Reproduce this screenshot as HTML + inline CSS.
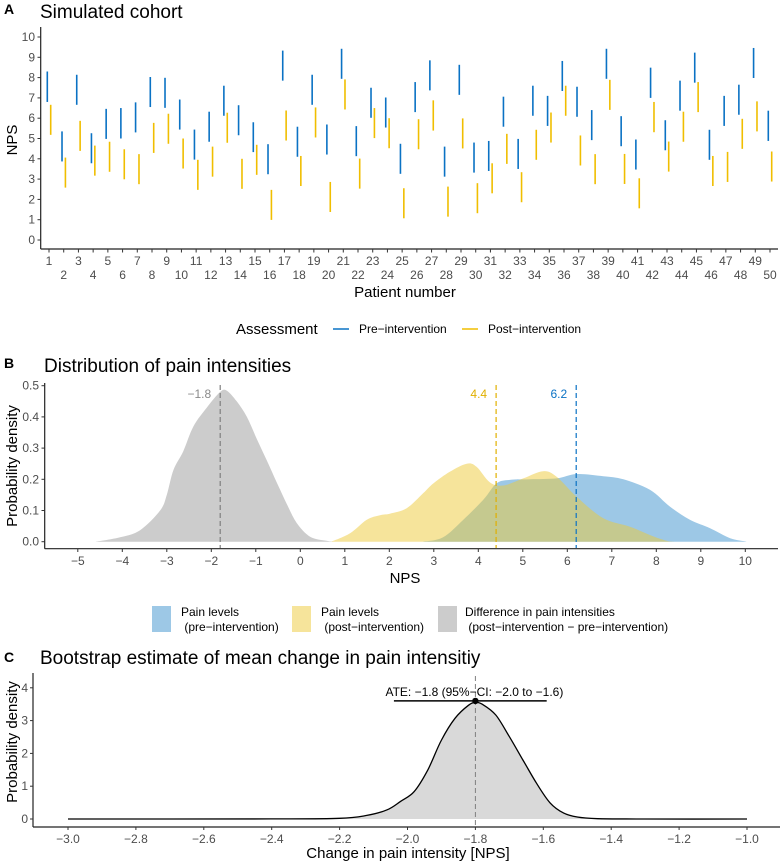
<!DOCTYPE html>
<html><head><meta charset="utf-8"><style>
body{margin:0;background:#fff;}
svg{display:block;font-family:"Liberation Sans",sans-serif;}
.tick{fill:#4d4d4d;font-size:12px;}
</style></head><body>
<svg id="chart" width="782" height="864" viewBox="0 0 782 864" xmlns="http://www.w3.org/2000/svg">
<g id="pA">
<text x="4" y="14" font-size="14" font-weight="bold">A</text>
<text x="40" y="18" font-size="19">Simulated cohort</text>
<text transform="translate(17,140) rotate(-90)" text-anchor="middle" font-size="15">NPS</text>
<text x="405" y="297" text-anchor="middle" font-size="15">Patient number</text>
<line x1="40.7" y1="27" x2="40.7" y2="249" stroke="#222" stroke-width="1.2"/>
<line x1="40.7" y1="249" x2="778" y2="249" stroke="#222" stroke-width="1.2"/>
</g>
<g id="legA">
<text x="236" y="334" font-size="15">Assessment</text>
<line x1="333" y1="329" x2="349" y2="329" stroke="#0a72c4" stroke-width="1.5"/>
<text x="359" y="333" font-size="12">Pre−intervention</text>
<line x1="462" y1="329" x2="478" y2="329" stroke="#f0be00" stroke-width="1.5"/>
<text x="488" y="333" font-size="12">Post−intervention</text>
</g>
<g id="pB">
<text x="4" y="368" font-size="14" font-weight="bold">B</text>
<text x="44" y="372" font-size="19">Distribution of pain intensities</text>
<text transform="translate(17,466) rotate(-90)" text-anchor="middle" font-size="15">Probability density</text>
<text x="405" y="583" text-anchor="middle" font-size="15">NPS</text>
</g>
<g id="legB">
<rect x="152" y="606" width="19" height="26" fill="#9dc8e6"/>
<text x="181" y="616" font-size="12"><tspan x="181">Pain levels</tspan><tspan x="181" dy="15"> (pre−intervention)</tspan></text>
<rect x="292" y="606" width="19" height="26" fill="#f6e49b"/>
<text x="321" y="616" font-size="12"><tspan x="321">Pain levels</tspan><tspan x="321" dy="15"> (post−intervention)</tspan></text>
<rect x="438" y="606" width="19" height="26" fill="#cccccc"/>
<text x="465" y="616" font-size="12"><tspan x="465">Difference in pain intensities</tspan><tspan x="465" dy="15"> (post−intervention − pre−intervention)</tspan></text>
</g>
<g id="pC">
<text x="4" y="662" font-size="14" font-weight="bold">C</text>
<text x="40" y="664" font-size="19">Bootstrap estimate of mean change in pain intensitiy</text>
<text transform="translate(17,742) rotate(-90)" text-anchor="middle" font-size="15">Probability density</text>
<text x="408" y="858" text-anchor="middle" font-size="15">Change in pain intensity [NPS]</text>
</g>
</svg>
<script>
// Panel A data
const patients = Array.from({length:50},(_,i)=>i+1);
const preHi = [8.3,5.35,8.14,5.26,6.46,6.5,6.78,8.03,7.99,6.92,5.44,6.32,7.6,6.64,5.8,4.72,9.33,5.58,8.14,5.69,9.42,5.61,7.5,7.02,4.74,7.78,8.85,4.6,8.63,4.8,4.88,7.06,4.98,7.6,7.1,8.82,7.55,6.4,9.42,6.1,4.95,8.49,5.9,7.85,9.23,5.43,7.1,7.65,9.46,6.37];
const preLo = [6.8,3.87,6.66,3.78,4.98,5.0,5.3,6.55,6.51,5.44,3.96,4.84,6.12,5.16,4.33,3.24,7.85,4.1,6.66,4.21,7.94,4.13,6.02,5.54,3.26,6.3,7.37,3.12,7.15,3.32,3.4,5.58,3.5,6.12,5.62,7.34,6.07,4.92,7.94,4.62,3.47,7.0,4.42,6.37,7.75,3.95,5.62,6.17,7.98,4.88];
const postHi = [6.66,4.06,5.87,4.65,4.84,4.47,4.23,5.77,6.22,5.0,3.95,4.6,6.27,4.0,4.69,2.47,6.38,4.14,6.53,2.86,7.91,4.01,6.5,6.0,2.55,5.95,6.88,2.63,5.99,2.8,3.78,5.23,3.34,5.43,6.28,7.6,5.15,4.23,7.89,4.24,3.04,6.8,4.85,6.32,7.78,4.14,4.34,5.97,6.83,4.36];
const postLo = [5.18,2.58,4.39,3.17,3.36,2.99,2.75,4.29,4.74,3.52,2.47,3.12,4.79,2.52,3.21,0.99,4.9,2.66,5.05,1.38,6.43,2.53,5.02,4.52,1.07,4.47,5.39,1.15,4.51,1.32,2.3,3.75,1.86,3.95,4.8,6.12,3.67,2.75,6.41,2.76,1.56,5.31,3.37,4.84,6.3,2.66,2.86,4.49,5.35,2.88];
const yTicksA = [0,1,2,3,4,5,6,7,8,9,10];
// Panel B data
const diffX = [-4.6,-4.05,-3.6,-3.15,-3.0,-2.85,-2.63,-2.4,-2.1,-1.8,-1.65,-1.43,-1.2,-0.98,-0.75,-0.53,-0.3,-0.08,0.22,0.59,0.74];
const diffY = [0,0.014,0.037,0.1,0.15,0.23,0.29,0.37,0.43,0.48,0.484,0.45,0.40,0.33,0.26,0.19,0.12,0.06,0.016,0.003,0];
const postX = [0.7,1.12,1.49,1.79,2.02,2.39,2.76,2.99,3.36,3.74,3.96,4.26,4.56,5.01,5.46,5.76,6.21,6.81,7.41,7.86,8.23,8.4];
const postY = [0,0.027,0.07,0.085,0.09,0.107,0.155,0.187,0.224,0.25,0.24,0.19,0.18,0.203,0.226,0.208,0.144,0.075,0.048,0.021,0.003,0];
const preX = [2.76,3.21,3.66,4.11,4.41,4.71,5.16,5.76,6.21,6.81,7.26,7.86,8.31,8.76,9.21,9.66,10.03];
const preY = [0,0.014,0.07,0.134,0.187,0.198,0.2,0.203,0.217,0.21,0.2,0.166,0.112,0.07,0.043,0.011,0];
const means = [-1.8,4.4,6.2];
const meanLabels = ["−1.8","4.4","6.2"];
const xTicksB = [-5,-4,-3,-2,-1,0,1,2,3,4,5,6,7,8,9,10];
const yTicksB = [0,0.1,0.2,0.3,0.4,0.5];
// Panel C data
const bootX = [-3.0,-2.4,-2.2,-2.12,-2.06,-2.02,-1.98,-1.94,-1.90,-1.86,-1.82,-1.80,-1.78,-1.74,-1.70,-1.66,-1.62,-1.58,-1.54,-1.50,-1.44,-1.3,-1.0];
const bootY = [0,0.003,0.02,0.11,0.28,0.54,0.84,1.5,2.41,3.07,3.47,3.55,3.5,3.17,2.51,1.8,1.09,0.49,0.18,0.06,0.01,0,0];
const ate = -1.8, ciLo = -2.04, ciHi = -1.59, ateY = 3.6;
const xTicksC = [-3.0,-2.8,-2.6,-2.4,-2.2,-2.0,-1.8,-1.6,-1.4,-1.2,-1.0];
const yTicksC = [0,1,2,3,4];

const NS="http://www.w3.org/2000/svg";
const svg=document.getElementById('chart');
function mk(tag,attrs,parent){const e=document.createElementNS(NS,tag);for(const k in attrs)e.setAttribute(k,attrs[k]);(parent||svg).appendChild(e);return e;}
const fmt=v=>(v<0?'−':'')+Math.abs(v).toString();
function smooth(pts){
  let d='';
  for(let i=0;i<pts.length-1;i++){
    const p0=pts[Math.max(0,i-1)],p1=pts[i],p2=pts[i+1],p3=pts[Math.min(pts.length-1,i+2)];
    const c1=[p1[0]+(p2[0]-p0[0])/6,p1[1]+(p2[1]-p0[1])/6];
    const c2=[p2[0]-(p3[0]-p1[0])/6,p2[1]-(p3[1]-p1[1])/6];
    d+=' C'+c1[0].toFixed(1)+','+c1[1].toFixed(1)+' '+c2[0].toFixed(1)+','+c2[1].toFixed(1)+' '+p2[0].toFixed(1)+','+p2[1].toFixed(1);
  }
  return d;
}

// ---- Panel A
const gA=document.getElementById('pA');
const xA=p=>49+(p-1)*(721/49);
const yA=v=>240-v*20.3;
yTicksA.forEach(t=>{
  const l=mk('line',{x1:37.5,x2:40.7,y1:yA(t),y2:yA(t),stroke:'#333'},gA);
  
  
  const tx=mk('text',{x:35,y:yA(t)+4,'text-anchor':'end',class:'tick'},gA);tx.textContent=t;
  
  
});
patients.forEach((p,i)=>{
  const x=xA(p);
  const tk=mk('line',{x1:x,x2:x,y1:249,y2:252.5,stroke:'#333'},gA);
  
  
  const tx=mk('text',{x:x,y:(p%2?265:279),'text-anchor':'middle',class:'tick'},gA);tx.textContent=p;
  
  
  const b=mk('line',{x1:x-1.7,x2:x-1.7,y1:yA(preHi[i]),y2:yA(preLo[i]),stroke:'#0a72c4','stroke-width':1.6},gA);
  
  
  const y=mk('line',{x1:x+1.7,x2:x+1.7,y1:yA(postHi[i]),y2:yA(postLo[i]),stroke:'#f0be00','stroke-width':1.6},gA);
  
  
});

// ---- Panel B
const gB=document.getElementById('pB');
const xB=v=>300.3+v*44.5;
const yB=v=>541.7-v*312;
function area(xs,ys,fill,op,name,g,xf,yf){
  const pts=xs.map((x,i)=>[xf(x),yf(ys[i])]);
  let d='M'+pts[0][0].toFixed(1)+','+yf(0)+' L'+pts[0][0].toFixed(1)+','+pts[0][1].toFixed(1)+smooth(pts)+' L'+pts[pts.length-1][0].toFixed(1)+','+yf(0)+' Z';
  const p=mk('path',{d:d,fill:fill,'fill-opacity':op},g);
  
  
  return p;
}
area(diffX,diffY,'#cccccc',1,'difference-density',gB,xB,yB);
area(preX,preY,'#3b91cd',0.5,'pre-density',gB,xB,yB);
area(postX,postY,'#edc937',0.5,'post-density',gB,xB,yB);
const mcol=['#7f7f7f','#e0b000','#0a72c4'];
means.forEach((m,i)=>{
  const l=mk('line',{x1:xB(m),x2:xB(m),y1:385,y2:548,stroke:mcol[i],'stroke-dasharray':'5,3','stroke-width':1.2},gB);
  
  
  const t=mk('text',{x:xB(m)-9,y:398,'text-anchor':'end','font-size':12,fill:i==0?'#8a8a8a':mcol[i]},gB);t.textContent=meanLabels[i];
  
  
});
const axB1=mk('line',{x1:44.7,x2:44.7,y1:383,y2:548.7,stroke:'#222','stroke-width':1.2},gB);


const axB2=mk('line',{x1:44.7,x2:778,y1:548.7,y2:548.7,stroke:'#222','stroke-width':1.2},gB);


yTicksB.forEach(t=>{
  const l=mk('line',{x1:41.5,x2:44.7,y1:yB(t),y2:yB(t),stroke:'#333'},gB);
  
  
  const tx=mk('text',{x:39,y:yB(t)+4,'text-anchor':'end',class:'tick'},gB);tx.textContent=t.toFixed(1);
  
  
});
xTicksB.forEach(t=>{
  const l=mk('line',{x1:xB(t),x2:xB(t),y1:548.7,y2:552,stroke:'#333'},gB);
  
  
  const tx=mk('text',{x:xB(t),y:565,'text-anchor':'middle',class:'tick'},gB);tx.textContent=fmt(t);
  
  
});

// ---- Panel C
const gC=document.getElementById('pC');
const xC=v=>68+(v+3)*339.5;
const yC=v=>819-v*32.8;
area(bootX,bootY,'#d9d9d9',1,'bootstrap-density-fill',gC,xC,yC);
const cpts=bootX.map((x,i)=>[xC(x),yC(bootY[i])]);
const dl='M'+cpts[0][0].toFixed(1)+','+cpts[0][1].toFixed(1)+smooth(cpts);
const lc=mk('path',{d:dl,fill:'none',stroke:'#000','stroke-width':1.3},gC);


const vl=mk('line',{x1:xC(ate),x2:xC(ate),y1:676,y2:827,stroke:'#7f7f7f','stroke-dasharray':'5,3'},gC);


const eb=mk('line',{x1:xC(ciLo),x2:xC(ciHi),y1:yC(ateY),y2:yC(ateY),stroke:'#000','stroke-width':1.5},gC);


const pt=mk('circle',{cx:xC(ate),cy:yC(ateY),r:3.2,fill:'#000'},gC);


const at=mk('text',{x:xC(ate)-1,y:696,'text-anchor':'middle','font-size':12},gC);
at.textContent='ATE: −1.8 (95%−CI: −2.0 to −1.6)';


const axC1=mk('line',{x1:33,x2:33,y1:673,y2:827,stroke:'#222','stroke-width':1.2},gC);


const axC2=mk('line',{x1:33,x2:780,y1:827,y2:827,stroke:'#222','stroke-width':1.2},gC);


yTicksC.forEach(t=>{
  const l=mk('line',{x1:30,x2:33,y1:yC(t),y2:yC(t),stroke:'#333'},gC);
  
  
  const tx=mk('text',{x:28,y:yC(t)+4,'text-anchor':'end',class:'tick'},gC);tx.textContent=t;
  
  
});
xTicksC.forEach(t=>{
  const l=mk('line',{x1:xC(t),x2:xC(t),y1:827,y2:830,stroke:'#333'},gC);
  
  
  const tx=mk('text',{x:xC(t),y:843,'text-anchor':'middle',class:'tick'},gC);
  tx.textContent=(t<0?'−':'')+Math.abs(t).toFixed(1);
  
  
});
</script>
</body></html>
